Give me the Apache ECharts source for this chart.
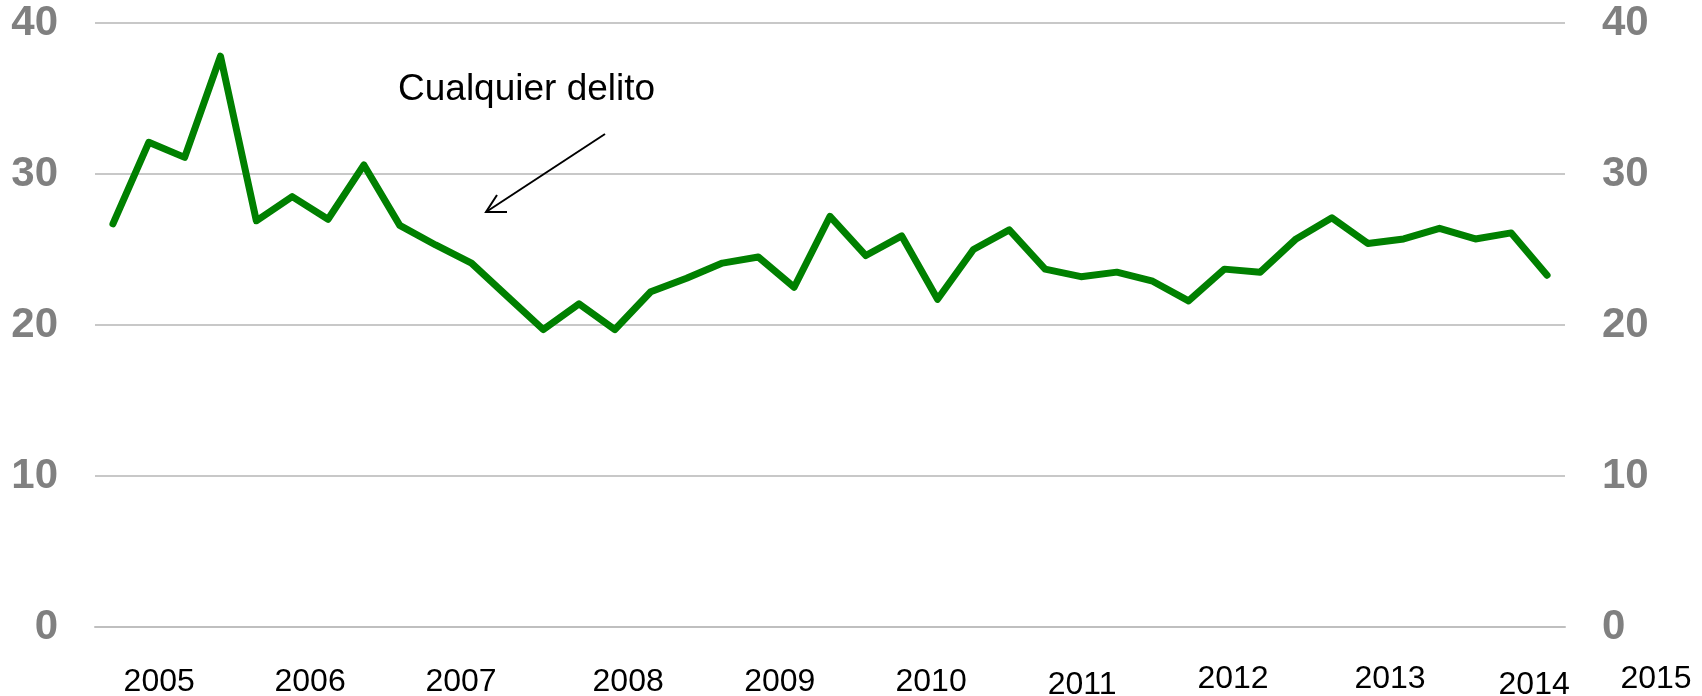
<!DOCTYPE html>
<html>
<head>
<meta charset="utf-8">
<script src="https://cdn.jsdelivr.net/npm/echarts@6/dist/echarts.min.js"></script>
<style>
  html, body { margin: 0; padding: 0; background: #fff; }
  #chartmain { width: 1702px; height: 696px; }
</style>
</head>
<body>
<div id="chartmain"></div>
<script>
// trimestres 2005 T1 .. 2015 T1
var quarters = [];
for (var y = 2005; y <= 2015; y++) {
  for (var q = 1; q <= 4; q++) {
    if (quarters.length < 41) quarters.push(y + " T" + q);
  }
}

// Cualquier delito (%)
var delito = [
  26.7, 32.1, 31.1, 37.8, 26.9, 28.5, 27.0, 30.6, 26.6, 25.3,
  24.1, 21.9, 19.7, 21.4, 19.7, 22.2, 23.1, 24.1, 24.5, 22.5,
  27.2, 24.6, 25.9, 21.7, 25.0, 26.3, 23.7, 23.2, 23.5, 22.9,
  21.6, 23.7, 23.5, 25.7, 27.1, 25.4, 25.7, 26.4, 25.7, 26.1, 23.3
];

// etiquetas de años (fila de texto bajo el eje)
var yearLabels = ["2005", "2006", "2007", "2008", "2009", "2010", "2011", "2012", "2013", "2014", "2015"];
var yearSlots = [1.79, 6.0, 10.21, 14.87, 19.1, 23.32, 27.53, 31.74, 36.12, 40.14, 43.54];
var yearRow = ["m", "m", "m", "m", "m", "m", "lo", "hi", "hi", "lo", "hi"];

var yTicks = { min: 0, max: 40, interval: 10 };

var catWidth = (1702 - 95 - 137) / quarters.length;

function yearFormatter(v) {
  var best = 0;
  for (var i = 1; i < yearSlots.length; i++) {
    if (Math.abs(yearSlots[i] - v) < Math.abs(yearSlots[best] - v)) best = i;
  }
  return "{" + yearRow[best] + "|" + yearLabels[best] + "}";
}

var yLabel = {
  fontFamily: "Liberation Sans",
  fontWeight: "bold",
  fontSize: 42,
  color: "#808080",
  margin: 37,
  padding: [6, 0, 0, 0]
};

var yearFont = { fontFamily: "Liberation Sans", fontSize: 32, color: "#000" };

option = {
  animation: false,
  grid: [
    { left: 95, right: 137, top: 23, bottom: 69, outerBoundsMode: "none" },
    { left: 95, right: 0, top: 23, bottom: 69, outerBoundsMode: "none" }
  ],
  xAxis: [
    {
      type: "category",
      data: quarters,
      boundaryGap: true,
      axisLine: { lineStyle: { color: "#bfbfbf", width: 2 } },
      axisTick: { interval: 3, length: 6, lineStyle: { color: "#bfbfbf", width: 2 } },
      axisLabel: { show: false },
      splitLine: { show: false }
    },
    {
      type: "value",
      gridIndex: 1,
      min: 0,
      max: (1702 - 95) / catWidth,
      axisLine: { show: false },
      axisTick: { show: false },
      splitLine: { show: false },
      axisLabel: {
        customValues: yearSlots,
        formatter: yearFormatter,
        margin: 34,
        rich: {
          m: Object.assign({ padding: [5, 0, 0, 0] }, yearFont),
          lo: Object.assign({ padding: [8, 0, 0, 0] }, yearFont),
          hi: Object.assign({ padding: [2, 0, 0, 0] }, yearFont)
        }
      }
    }
  ],
  yAxis: [
    {
      type: "value",
      min: yTicks.min, max: yTicks.max, interval: yTicks.interval,
      position: "left",
      axisLine: { show: false },
      axisTick: { show: false },
      axisLabel: yLabel,
      splitLine: { lineStyle: { color: "#c8c8c8", width: 2 } }
    },
    {
      type: "value",
      min: yTicks.min, max: yTicks.max, interval: yTicks.interval,
      position: "right",
      axisLine: { show: false },
      axisTick: { show: false },
      axisLabel: yLabel,
      splitLine: { show: false }
    },
    { type: "value", gridIndex: 1, show: false, min: 0, max: 40 }
  ],
  series: [
    {
      name: "Cualquier delito",
      type: "line",
      xAxisIndex: 0,
      yAxisIndex: 0,
      data: delito,
      symbol: "none",
      lineStyle: { color: "#008000", width: 7, cap: "round", join: "round" }
    }
  ],
  graphic: [
    {
      type: "text",
      left: 398,
      top: 71,
      z: 100,
      style: { text: "Cualquier delito", font: '37px "Liberation Sans"', fill: "#000" }
    },
    {
      type: "polyline",
      z: 100,
      shape: { points: [[605, 134], [486, 212]] },
      style: { stroke: "#000", lineWidth: 2, fill: null }
    },
    {
      type: "polyline",
      z: 100,
      shape: { points: [[507, 212], [486, 212], [497, 195]] },
      style: { stroke: "#000", lineWidth: 2, fill: null }
    }
  ]
};

var myChart = echarts.init(document.getElementById("chartmain"));
myChart.setOption(option);
</script>
</body>
</html>
